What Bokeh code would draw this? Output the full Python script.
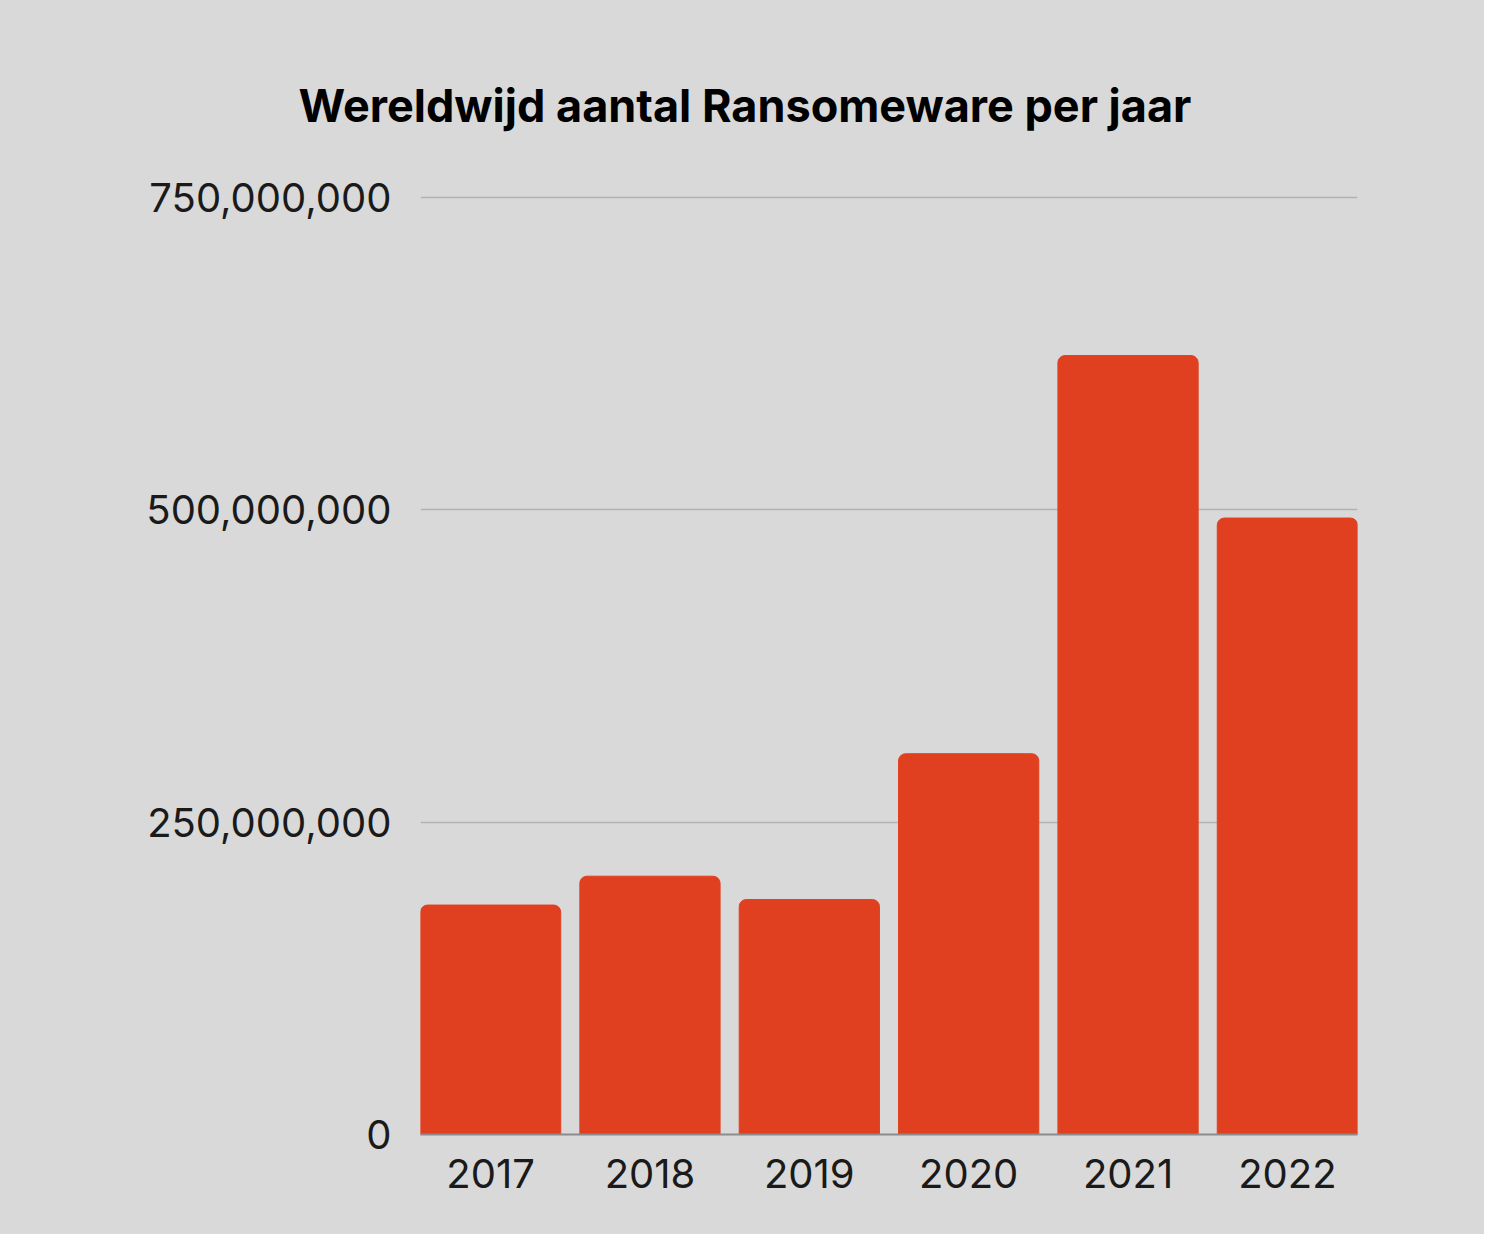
from bokeh.plotting import figure
from bokeh.models import ColumnDataSource, Range1d, Title, FixedTicker, NumeralTickFormatter
from bokeh.embed import file_html
from bokeh.resources import INLINE

# data
years = ["2017", "2018", "2019", "2020", "2021", "2022"]
attacks = [183.6e6, 206.7e6, 188.0e6, 304.7e6, 623.3e6, 493.3e6]
y_ticks = [0, 250e6, 500e6, 750e6]

bg = "#d9d9d9"
bar_color = "#e0401f"

src = ColumnDataSource(data=dict(x=list(range(len(years))), top=attacks))

p = figure(width=1484, height=1234, output_backend="svg", toolbar_location=None,
           x_range=Range1d(-0.44, len(years) - 0.56), y_range=Range1d(0, 753e6),
           min_border_left=420, min_border_right=127, min_border_top=193, min_border_bottom=100)
# one flat background, no seams around the frame
p.background_fill_color = None
p.border_fill_color = None
p.styles = {"background-color": bg}
p.outline_line_color = None

p.vbar(x="x", top="top", width=0.88, source=src, color=bar_color, border_radius=(7, 7, 0, 0))

# axes
p.xaxis.ticker = FixedTicker(ticks=list(range(len(years))))
p.xaxis.major_label_overrides = {i: y for i, y in enumerate(years)}
p.yaxis.ticker = FixedTicker(ticks=y_ticks)
p.yaxis.formatter = NumeralTickFormatter(format="0,0")
for ax in (p.xaxis, p.yaxis):
    ax.major_tick_line_color = None
    ax.minor_tick_line_color = None
    ax.major_label_text_font = "Inter"
    ax.major_label_text_font_size = "40px"
    ax.major_label_text_color = "#1a1a1a"
p.yaxis.axis_line_color = None
p.xaxis.axis_line_color = "#8c8c8c"
p.xaxis.axis_line_width = 2
p.yaxis.major_label_standoff = 23
p.xaxis.major_label_standoff = 18

p.xgrid.grid_line_color = None
p.ygrid.grid_line_color = "#b3b3b3"
p.ygrid.grid_line_width = 1.5

title = Title(text="Wereldwijd aantal Ransomeware per jaar", align="left", offset=-122,
              standoff=122, text_font="Inter", text_font_style="bold", text_font_size="45px",
              text_color="#000000")
p.add_layout(title, "above")

open("out.html", "w").write(file_html(p, INLINE))
